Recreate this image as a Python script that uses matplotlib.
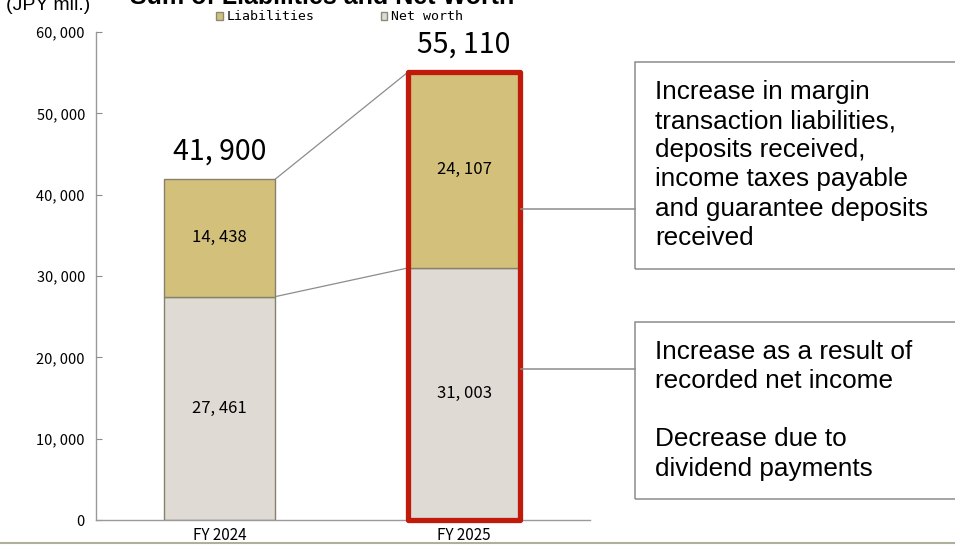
import matplotlib
matplotlib.use("Agg")
import matplotlib.pyplot as plt
from matplotlib.patches import Patch, Rectangle
from matplotlib.lines import Line2D

#### data (JPY mil.) ####
years = ["FY 2024", "FY 2025"]
net_worth = [27461, 31003]
liabilities = [14438, 24107]
totals = [41900, 55110]
yticks = [0, 10000, 20000, 30000, 40000, 50000, 60000]

note_top = ("Increase in margin\ntransaction liabilities,\ndeposits received,\n"
            "income taxes payable\nand guarantee deposits\nreceived")
note_bottom = ("Increase as a result of\nrecorded net income\n\n"
               "Decrease due to\ndividend payments")

#### style ####
C_LIAB = "#d3c07b"
C_NET = "#dfdbd4"
C_EDGE = "#85826c"
C_RED = "#bf1a0b"
C_GRAY = "#8c8c8c"
JP = ["Noto Sans CJK JP", "DejaVu Sans"]
W, H = 955, 545


def fmt(v):
    return f"{v:,}".replace(",", ", ")


def px(x, y):
    # pixel position -> figure fraction
    return x / W, 1 - y / H


fig = plt.figure(figsize=(W / 100, H / 100), dpi=100)
ax = fig.add_axes([96 / W, 1 - 520 / H, (590 - 96) / W, (520 - 32) / H])

x = [0, 1]
width = 0.455
ax.bar(x, net_worth, width=width, color=C_NET, edgecolor=C_EDGE, linewidth=1, zorder=2)
ax.bar(x, liabilities, bottom=net_worth, width=width, color=C_LIAB,
       edgecolor=C_EDGE, linewidth=1, zorder=2)

# red frame around the latest year
ax.add_patch(Rectangle((x[1] - width / 2, 0), width, totals[1], fill=False,
                       edgecolor=C_RED, linewidth=3.8, joinstyle="round",
                       zorder=3, clip_on=False))

# connector lines between the two bars
for a, b in [(totals[0], totals[1]), (net_worth[0], net_worth[1])]:
    ax.plot([x[0] + width / 2, x[1] - width / 2], [a, b], color=C_GRAY,
            linewidth=0.9, zorder=1)

# value labels
for i in x:
    ax.text(i, net_worth[i] / 2, fmt(net_worth[i]), ha="center", va="center",
            fontsize=12, family=JP, zorder=4)
    ax.text(i, net_worth[i] + liabilities[i] / 2, fmt(liabilities[i]),
            ha="center", va="center", fontsize=12, family=JP, zorder=4)
ax.text(x[0], totals[0] + 1500, fmt(totals[0]), ha="center", va="bottom",
        fontsize=20.5, family=JP)
ax.text(x[1], totals[1] + 1500, fmt(totals[1]), ha="center", va="bottom",
        fontsize=20.5, family=JP)

ax.set_xlim(-0.505, 1.515)
ax.set_ylim(0, 60000)
ax.set_yticks(yticks)
ax.set_yticklabels([fmt(v) for v in yticks], family=JP, fontsize=10.5)
ax.set_xticks(x)
ax.set_xticklabels(years, family=JP, fontsize=11)
ax.tick_params(axis="y", direction="in", length=4, color=C_GRAY, pad=8)
ax.tick_params(axis="x", length=0, pad=5)
for s in ["top", "right"]:
    ax.spines[s].set_visible(False)
for s in ["left", "bottom"]:
    ax.spines[s].set_color("#9a9a9a")
    ax.spines[s].set_linewidth(1)

# legend
handles = [Patch(facecolor=C_LIAB, edgecolor="#8a8a7a", label="Liabilities"),
           Patch(facecolor=C_NET, edgecolor="#8a8a7a", label="Net worth")]
fig.legend(handles=handles, loc="center left", bbox_to_anchor=px(216, 17),
           ncol=2, frameon=False, prop={"family": "DejaVu Sans Mono", "size": 9.5},
           handlelength=0.5, handleheight=0.5, handletextpad=0.3,
           columnspacing=5.0, borderpad=0, borderaxespad=0)

# titles (partly outside the top edge)
fig.text(*px(130, 4), "Sum of Liabilities and Net Worth", fontsize=18,
         fontweight="bold", family="Liberation Sans", va="baseline")
fig.text(*px(6, 10), "(JPY mil.)", fontsize=14, family="Liberation Sans",
         va="baseline")

# callout boxes with leader lines
for top, bot, lead_y, txt in [(62, 269, 209, note_top), (322, 499, 369, note_bottom)]:
    x0, y0 = px(635, bot)
    x1, y1 = px(965, top)
    fig.patches.append(Rectangle((x0, y0), x1 - x0, y1 - y0, fill=False,
                                 edgecolor=C_GRAY, linewidth=1.1,
                                 transform=fig.transFigure, figure=fig))
    fig.lines.append(Line2D([px(521, 0)[0], x0], [px(0, lead_y)[1]] * 2,
                            color=C_GRAY, linewidth=1.1,
                            transform=fig.transFigure, figure=fig))
    fig.text(*px(655, top + 18), txt, fontsize=18.8, family="Liberation Sans",
             va="top", ha="left", linespacing=1.27)

# bottom rule
fig.lines.append(Line2D([0, 1], [px(0, 543)[1]] * 2, color="#b0ae9c",
                        linewidth=1.5, transform=fig.transFigure, figure=fig))

fig.savefig("out.png", dpi=100)
